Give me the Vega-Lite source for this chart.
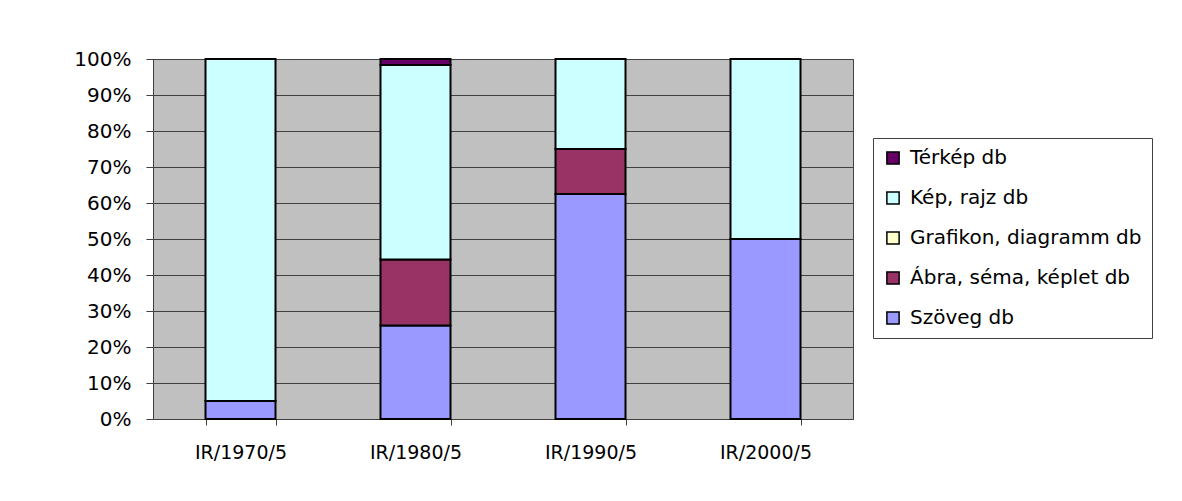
{
  "$schema": "https://vega.github.io/schema/vega-lite/v6.json",
  "autosize": "none",
  "width": 700,
  "height": 360,
  "padding": {"left": 153, "top": 59, "right": 329, "bottom": 82},
  "background": "white",
  "data": {
    "values": [
      {"kiadvany": "IR/1970/5", "kategoria": "Szöveg db", "sorrend": 1, "arany": 5},
      {"kiadvany": "IR/1970/5", "kategoria": "Kép, rajz db", "sorrend": 4, "arany": 95},
      {"kiadvany": "IR/1980/5", "kategoria": "Szöveg db", "sorrend": 1, "arany": 26},
      {"kiadvany": "IR/1980/5", "kategoria": "Ábra, séma, képlet db", "sorrend": 2, "arany": 18.3},
      {"kiadvany": "IR/1980/5", "kategoria": "Kép, rajz db", "sorrend": 4, "arany": 54},
      {"kiadvany": "IR/1980/5", "kategoria": "Térkép db", "sorrend": 5, "arany": 1.7},
      {"kiadvany": "IR/1990/5", "kategoria": "Szöveg db", "sorrend": 1, "arany": 62.5},
      {"kiadvany": "IR/1990/5", "kategoria": "Ábra, séma, képlet db", "sorrend": 2, "arany": 12.5},
      {"kiadvany": "IR/1990/5", "kategoria": "Kép, rajz db", "sorrend": 4, "arany": 25},
      {"kiadvany": "IR/2000/5", "kategoria": "Szöveg db", "sorrend": 1, "arany": 50},
      {"kiadvany": "IR/2000/5", "kategoria": "Kép, rajz db", "sorrend": 4, "arany": 50}
    ]
  },
  "mark": {"type": "bar", "stroke": "black", "strokeWidth": 2},
  "encoding": {
    "x": {
      "field": "kiadvany",
      "type": "nominal",
      "scale": {"paddingInner": 0.6, "paddingOuter": 0.3},
      "axis": {
        "title": null,
        "labelAngle": 0,
        "labelFont": "DejaVu Sans",
        "labelFontSize": 19,
        "labelColor": "black",
        "labelPadding": 18,
        "tickBand": "extent",
        "tickSize": 6,
        "tickColor": "#404040",
        "domainColor": "#404040",
        "grid": false
      }
    },
    "y": {
      "field": "arany",
      "type": "quantitative",
      "stack": "normalize",
      "axis": {
        "title": null,
        "format": ".0%",
        "tickCount": 10,
        "labelFont": "DejaVu Sans",
        "labelFontSize": 20,
        "labelColor": "black",
        "labelPadding": 15,
        "tickSize": 7,
        "tickColor": "#404040",
        "domainColor": "#404040",
        "grid": true,
        "gridColor": "#404040",
        "gridWidth": 1
      }
    },
    "order": {"field": "sorrend", "type": "quantitative", "sort": "ascending"},
    "color": {
      "field": "kategoria",
      "type": "nominal",
      "scale": {
        "domain": ["Szöveg db", "Ábra, séma, képlet db", "Grafikon, diagramm db", "Kép, rajz db", "Térkép db"],
        "range": ["#9999FF", "#993366", "#FFFFCC", "#CCFFFF", "#660066"]
      },
      "legend": {
        "title": null,
        "orient": "none",
        "legendX": 720,
        "legendY": 79,
        "values": ["Térkép db", "Kép, rajz db", "Grafikon, diagramm db", "Ábra, séma, képlet db", "Szöveg db"],
        "strokeColor": "#404040",
        "fillColor": "white",
        "padding": 10,
        "symbolType": "square",
        "symbolSize": 150,
        "symbolStrokeColor": "black",
        "symbolStrokeWidth": 1.5,
        "labelFont": "DejaVu Sans",
        "labelFontSize": 20,
        "labelColor": "black",
        "labelOffset": 7,
        "labelLimit": 400,
        "rowPadding": 20
      }
    }
  },
  "config": {
    "view": {"fill": "#C0C0C0", "stroke": "#404040", "strokeWidth": 1}
  }
}
